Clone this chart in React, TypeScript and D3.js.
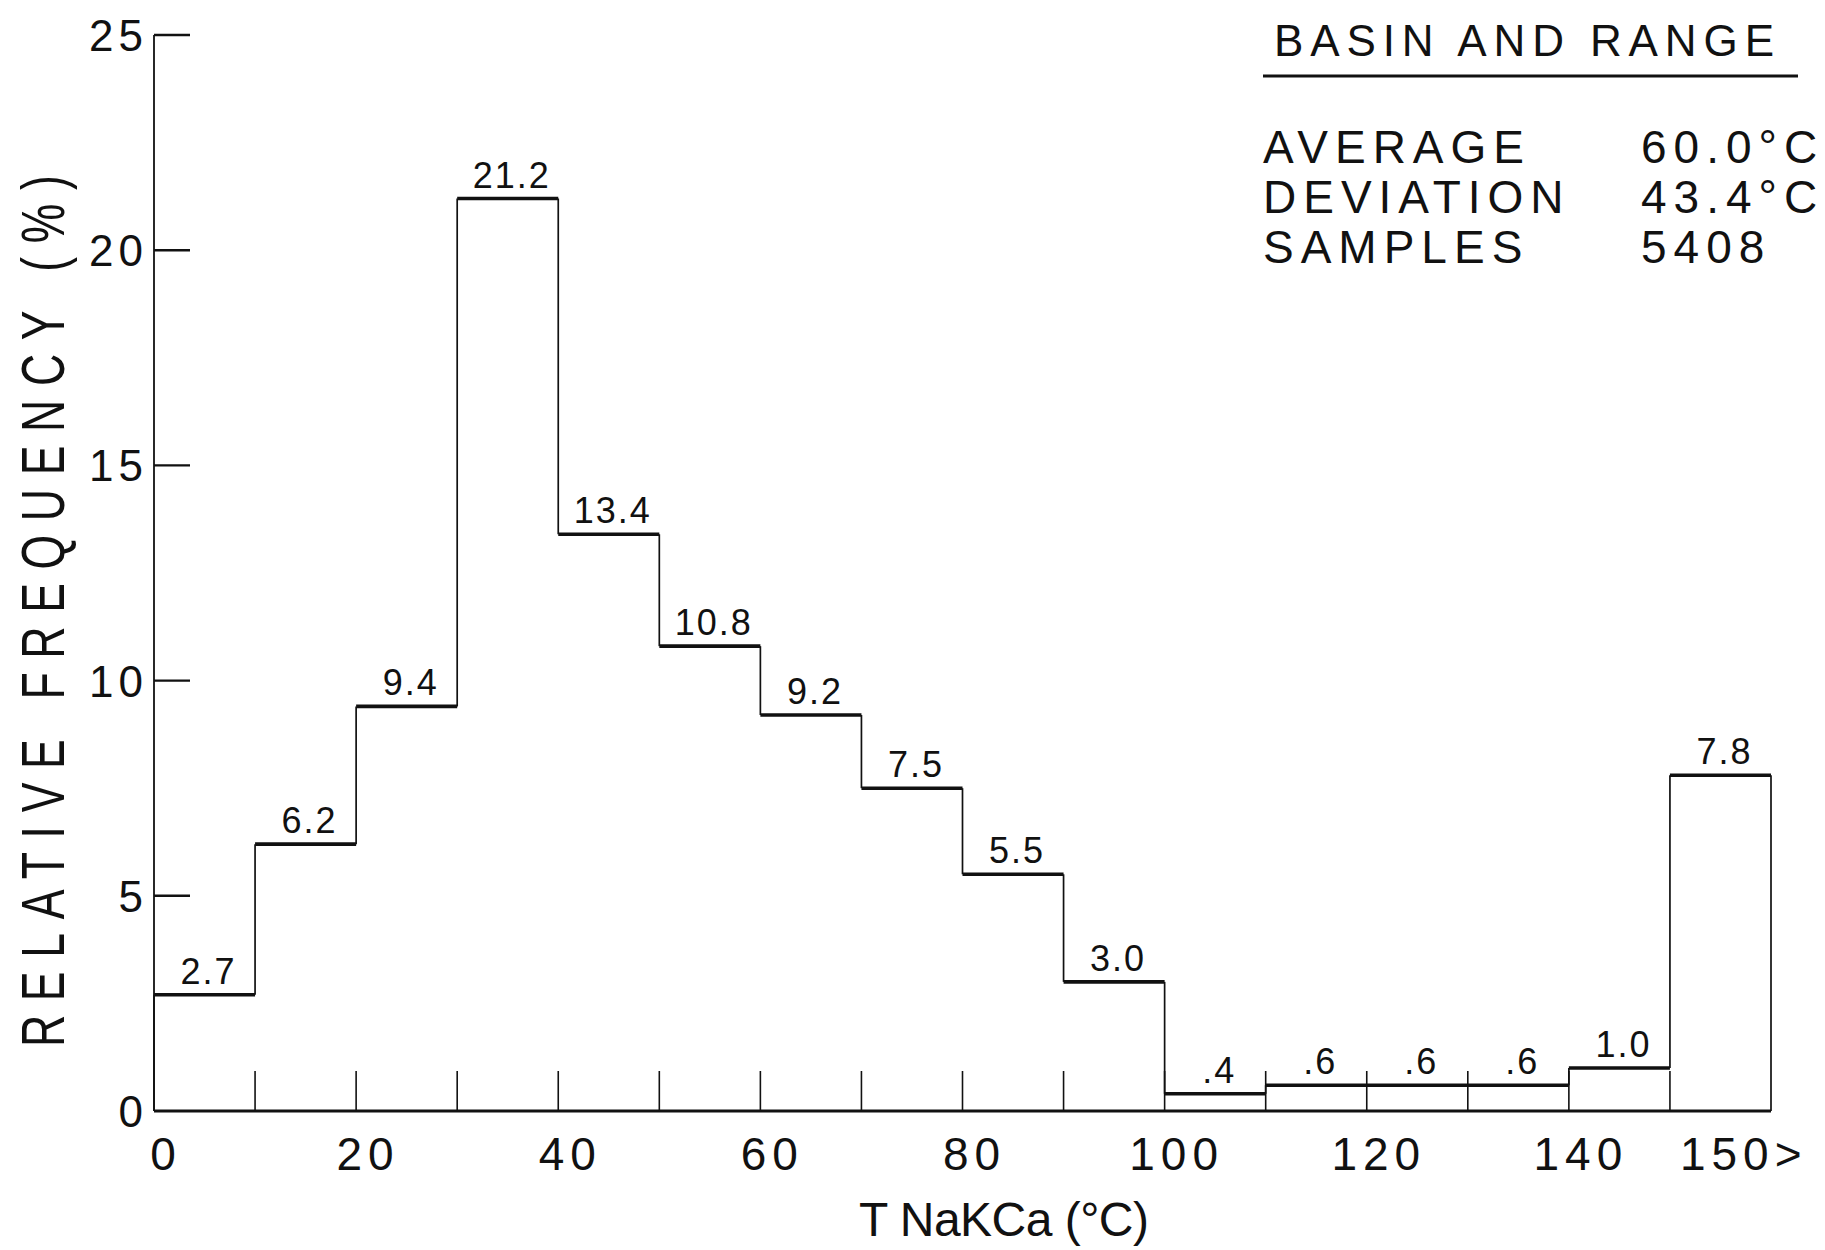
import React from "react";
import * as d3 from "d3";

// histogram bins (lower edge, degC) and relative frequency (%)
const binStarts = [0, 10, 20, 30, 40, 50, 60, 70, 80, 90, 100, 110, 120, 130, 140, 150];
const frequencies = [2.7, 6.2, 9.4, 21.2, 13.4, 10.8, 9.2, 7.5, 5.5, 3.0, 0.4, 0.6, 0.6, 0.6, 1.0, 7.8];
const valueLabels = ["2.7", "6.2", "9.4", "21.2", "13.4", "10.8", "9.2", "7.5", "5.5", "3.0", ".4", ".6", ".6", ".6", "1.0", "7.8"];
const yTicks = [0, 5, 10, 15, 20, 25];
const xTickValues = [0, 20, 40, 60, 80, 100, 120, 140];
const lastTickLabel = "150>";
const statNames = ["AVERAGE", "DEVIATION", "SAMPLES"];
const statValues = ["60.0°C", "43.4°C", "5408"];
const title = "BASIN AND RANGE";

const W = 1825, H = 1250;
const FONT = "'Liberation Sans', Arial, sans-serif";
const INK = "#111";

export default function App() {
  const x = d3.scaleLinear().domain([0, 160]).range([154, 1771]);
  const y = d3.scaleLinear().domain([0, 25]).range([1111, 35]);
  const binW = 10;
  const last = binStarts.length - 1;

  // vertical edges of the step outline
  const edges = binStarts.map((b, i) => ({
    x: x(b),
    from: i === 0 ? 0 : frequencies[i - 1],
    to: frequencies[i],
  }));
  edges.push({ x: x(binStarts[last] + binW), from: frequencies[last], to: 0 });

  const narrow = 0.72; // lettering is tall and thin

  return (
    <svg width={W} height={H} style={{ position: "absolute", left: 0, top: 0, background: "#fff" }}
      fontFamily={FONT} fill={INK}>
      {/* y axis */}
      <line x1={x(0)} x2={x(0)} y1={y(25)} y2={y(0)} stroke={INK} strokeWidth={1.8} />
      {yTicks.filter(t => t > 0).map(t => (
        <line key={"yt" + t} x1={x(0)} x2={x(0) + 36} y1={y(t)} y2={y(t)} stroke={INK} strokeWidth={2.4} />
      ))}
      {yTicks.map(t => (
        <text key={"yl" + t} x={x(0) - 6} y={y(t) + 16} textAnchor="end" fontSize={44} letterSpacing={5}>{t}</text>
      ))}

      {/* baseline */}
      <line x1={x(0)} x2={x(160)} y1={y(0)} y2={y(0)} stroke={INK} strokeWidth={3.2} />
      {binStarts.slice(1).map(b => (
        <line key={"xt" + b} x1={x(b)} x2={x(b)} y1={y(0)} y2={y(0) - 40} stroke={INK} strokeWidth={1.6} />
      ))}
      {xTickValues.map(v => (
        <text key={"xl" + v} x={x(v) + 12} y={1170} textAnchor="middle" fontSize={46} letterSpacing={6}>{v}</text>
      ))}
      <text x={x(150) + 10} y={1170} textAnchor="start" fontSize={46} letterSpacing={6}>{lastTickLabel}</text>

      {/* histogram outline */}
      {edges.map((e, i) => (
        <line key={"ve" + i} x1={e.x} x2={e.x} y1={y(e.from)} y2={y(e.to)} stroke={INK} strokeWidth={1.7} />
      ))}
      {binStarts.map((b, i) => (
        <line key={"top" + i} x1={x(b)} x2={x(b + binW)} y1={y(frequencies[i])} y2={y(frequencies[i])}
          stroke={INK} strokeWidth={3.6} />
      ))}
      {binStarts.map((b, i) => (
        <text key={"vl" + i} x={x(b + binW / 2) + 4} y={y(frequencies[i]) - 11} textAnchor="middle"
          fontSize={36} letterSpacing={2}>{valueLabels[i]}</text>
      ))}

      {/* axis titles */}
      <text x={1004} y={1236} textAnchor="middle" fontSize={48} textLength={290} lengthAdjust="spacing">T NaKCa (°C)</text>
      <text transform={`translate(64, ${611}) rotate(-90) scale(${narrow}, 1)`} textAnchor="middle" fontSize={62}
        textLength={872 / narrow} lengthAdjust="spacing">RELATIVE FREQUENCY (%)</text>

      {/* legend block */}
      <text x={1274} y={56} fontSize={44} textLength={500} lengthAdjust="spacing">{title}</text>
      <line x1={1263} x2={1798} y1={76} y2={76} stroke={INK} strokeWidth={3} />
      {statNames.map((s, i) => (
        <text key={"sn" + i} x={1263} y={163 + i * 50} fontSize={46} letterSpacing={7}>{s}</text>
      ))}
      {statValues.map((s, i) => (
        <text key={"sv" + i} x={1641} y={163 + i * 50} fontSize={46} letterSpacing={7}>{s}</text>
      ))}
    </svg>
  );
}
